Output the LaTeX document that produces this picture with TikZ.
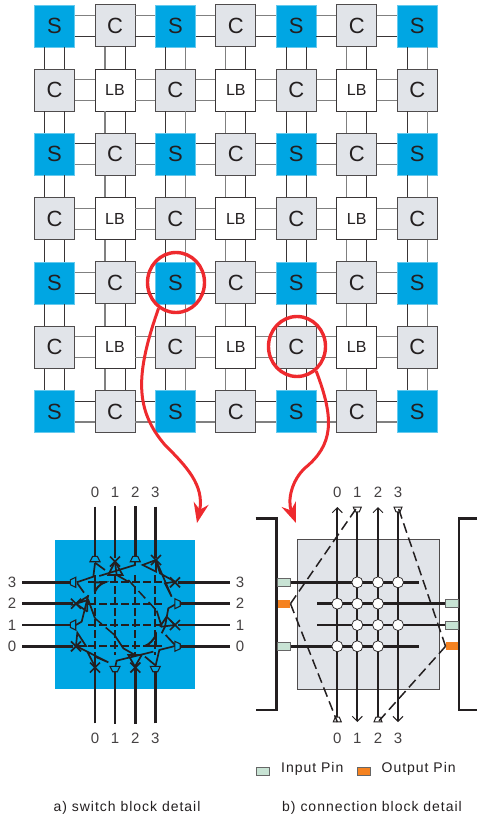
\documentclass[tikz,border=0pt]{standalone}
\usepackage{fontspec}
\setmainfont{Liberation Sans}
\newfontfamily\spacedfont[LetterSpace=7]{Liberation Sans}
\usetikzlibrary{arrows.meta,shapes.geometric}
\definecolor{inkdark}{HTML}{231F20}
\definecolor{sblue}{HTML}{00A6E3}
\definecolor{cgrey}{HTML}{E1E4E9}
\definecolor{ringred}{HTML}{EE2A2E}
\definecolor{pingreen}{HTML}{C8E3D4}
\definecolor{pinorange}{HTML}{F58220}
\begin{document}
\begin{tikzpicture}[
    x=1pt,y=-1pt,
    every node/.style={text=inkdark},
    block/.style={minimum width=40pt,minimum height=42pt,inner sep=0pt,line width=.9pt},
    blk0/.style={block,fill=sblue,draw=sblue!60!white,line width=.3pt,font=\fontsize{22}{24}\selectfont},
    blk1/.style={block,fill=cgrey,draw=inkdark!80,font=\fontsize{22}{24}\selectfont},
    blk2/.style={blk1},
    blk3/.style={block,fill=white,draw=inkdark!90,font=\fontsize{16}{18}\selectfont},
    conn0/.style={draw=inkdark!90,line width=.8pt},
    conn1/.style={draw=black!50,line width=1.2pt},
    ring/.style={ellipse,draw=ringred,line width=3.4pt,minimum width=57pt,minimum height=60pt,inner sep=0pt},
    callout/.style={draw=ringred,line width=3pt,-{Stealth[length=20pt,width=15pt]}},
    wire/.style={draw=inkdark,line width=2.5pt},
    cnwire/.style={draw=inkdark,line width=2.2pt,-{Straight Barb[length=5pt,width=10pt,line width=1pt]}},
    gate/.style={draw=inkdark,line width=1.7pt,line join=miter},
    swdash/.style={gate,dash pattern=on 8pt off 3pt},
    route/.style={gate,line width=1.5pt,dash pattern=on 10pt off 5pt},
    number/.style={font=\fontsize{15}{17}\selectfont,text=inkdark!85,inner sep=0pt},
    pinbox/.style={minimum width=12.5pt,minimum height=8pt,inner sep=0pt},
    inpin/.style={pinbox,fill=pingreen,draw=black!60,line width=.7pt},
    outpin/.style={pinbox,fill=pinorange},
    caption/.style={font=\fontsize{14}{16}\spacedfont,inner sep=0pt},
    junction/.style={circle,fill=white,draw=inkdark,line width=.7pt,minimum size=11pt,inner sep=0pt},
    trap/.pic={\draw[gate,fill=sblue,line width=1.1pt] (-5,2.7) -- (5,2.7) -- (2.4,-2.7) -- (-2.4,-2.7) -- cycle;},
    smalltrap/.pic={\draw[gate,fill=white,line width=1pt] (-4,2.4) -- (4,2.4) -- (2,-2.4) -- (-2,-2.4) -- cycle;},
    cross/.pic={\draw[gate] (-5,-5) -- (5,5) (-5,5) -- (5,-5);}
  ]
  \useasboundingbox (0,0) rectangle (477,819);

  % block array
  \foreach \rw in {0,...,6} {
    \foreach \cl in {0,...,6} {
      \pgfmathtruncatemacro{\kind}{mod(\rw,2)*2+mod(\cl,2)}
      \node[blk\kind] (n\rw\cl) at ({54.5+60.45*\cl},{25.7+64.3*\rw})
        {\ifcase\kind S\or C\or C\or LB\fi};
    }
  }
  \foreach \rw in {0,...,6} {
    \foreach \cl [evaluate=\cl as \nx using int(\cl+1)] in {0,...,5} {
      \pgfmathtruncatemacro{\tk}{mod(\rw,4)!=2}
      \pgfmathtruncatemacro{\bk}{mod(\rw,4)!=0}
      \draw[conn\tk] ([yshift=10.5pt]n\rw\cl.east) -- ([yshift=10.5pt]n\rw\nx.west);
      \draw[conn\bk] ([yshift=-10.5pt]n\rw\cl.east) -- ([yshift=-10.5pt]n\rw\nx.west);
    }
  }
  \foreach \cl in {0,...,6} {
    \foreach \rw [evaluate=\rw as \nx using int(\rw+1)] in {0,...,5} {
      \pgfmathtruncatemacro{\lk}{mod(\cl,2)==1}
      \pgfmathtruncatemacro{\rk}{mod(\cl,4)==2}
      \draw[conn\lk] ([xshift=-10pt]n\rw\cl.south) -- ([xshift=-10pt]n\nx\cl.north);
      \draw[conn\rk] ([xshift=10pt]n\rw\cl.south) -- ([xshift=10pt]n\nx\cl.north);
    }
  }

  % switch block
  \node[fill=sblue,minimum width=140pt,minimum height=149pt,inner sep=0pt] (swblock) at (125,614.5) {};
  \foreach \i/\xx/\yy in {0/95/646.3,1/115/625,2/135.3/603.7,3/155.3/582.3} {
    \node[number] (swtop\i) at (\xx,492) {\i};
    \node[number] (swbot\i) at (\xx,738) {\i};
    \node[number] (swleft\i) at (12,\yy) {\i};
    \node[number] (swright\i) at (240,\yy) {\i};
    \draw[wire] ([yshift=-9pt]swtop\i.south) -- (\xx,558);
    \draw[wire] ([yshift=9pt]swbot\i.north) -- (\xx,668);
    \draw[wire] ([xshift=6pt]swleft\i.east) -- (73,\yy);
    \draw[wire] ([xshift=-6pt]swright\i.west) -- (178,\yy);
    \draw[swdash] (\xx,575) -- (\xx,655);
    \draw[swdash] (88,\yy) -- (163,\yy);
  }
  \begin{scope}[shift={(0,480)},scale=0.3333]
    \draw[gate] (285,250) -- (280,290) -- (230,307) (232,310) -- (252,338) (285,248) -- (315,270);
    \draw[gate] (345,245) -- (325,285) -- (368,285) -- cycle;
    \draw[gate] (298,288) -- (405,255) -- (405,245);
    \draw[gate] (345,245) -- (350,285) -- (385,305);
    \draw[route] (385,300) -- (470,392);
    \draw[gate] (470,392) -- (485,440) -- (525,435) -- (500,410) -- (480,440);
    \draw[gate] (468,240) -- (428,255) -- (468,275) -- cycle;
    \draw[gate] (468,240) -- (480,280) -- (525,305) -- (495,310) -- (515,350) -- cycle;
    \draw[gate] (530,371) -- (505,385) -- (495,440) -- (485,460);
    \draw[gate] (525,495) -- (497,465) (525,498) -- (478,510) -- (465,565) (435,530) -- (465,555);
    \draw[gate] (345,565) -- (350,542) -- (460,515);
    \draw[gate] (405,560) -- (385,525) -- (425,525) -- cycle;
    \draw[gate] (405,525) -- (370,505) -- (340,460);
    \draw[route] (340,462) -- (285,415);
    \draw[gate] (285,415) -- (265,360) -- (228,371) -- (262,350) -- (262,395);
    \draw[gate] (228,371) -- (262,395);
    \draw[gate] (265,345) -- (245,425) -- (228,435);
    \draw[gate] (228,498) -- (232,458) -- (258,498) -- cycle;
    \draw[gate] (228,498) -- (262,515) -- (285,560) -- (285,530) -- (325,547) -- cycle;
    \draw[gate,line width=2pt] (285,335) -- (285,307) -- (315,307) .. controls (295,315) and (290,325) .. (285,335);
    \draw[gate,line width=2pt] (435,498) -- (468,498) -- (468,465) .. controls (460,480) and (450,492) .. (435,498);
  \end{scope}
  \foreach \xx/\yy/\ang in {95/559/0,135.3/559/0,115/669/180,155.3/669/180,73/582.3/90,73/625/90,177.5/603.7/-90,177.5/646.3/-90} {
    \pic[rotate=\ang] at (\xx,\yy) {trap};
  }
  \foreach \xx/\yy in {115/561.5,156/560,76/603.7,76/646.3,175/582.3,175/625,95/667.5,135.3/667.5} {
    \pic at (\xx,\yy) {cross};
  }

  % connection block
  \node[fill=cgrey,draw=inkdark!80,line width=.7pt,minimum width=142pt,minimum height=150pt,inner sep=0pt] (cnblock) at (368,614) {};
  \draw[wire] (255.7,518.5) -- (276.7,518.5) -- (276.7,710) -- (255.7,710);
  \draw[wire] (477,518.5) -- (459,518.5) -- (459,710) -- (477,710);
  \node[inpin] (pinLa) at (284,582.3) {};
  \node[outpin] (pinLb) at (284,603.7) {};
  \node[inpin] (pinLc) at (284,646.3) {};
  \node[inpin] (pinRa) at (452,603.7) {};
  \node[inpin] (pinRb) at (452,625) {};
  \node[outpin] (pinRc) at (452,646.3) {};
  \foreach \i/\xx in {0/337.3,1/357.3,2/378,3/398} {
    \node[number] (cntop\i) at (\xx,492) {\i};
    \node[number] (cnbot\i) at (\xx,738) {\i};
    \coordinate (cnup\i) at (\xx,507);
    \coordinate (cndown\i) at (\xx,722);
  }
  \foreach \i in {0,2} {
    \draw[cnwire] (cndown\i) -- (cnup\i);
  }
  \foreach \i in {1,3} {
    \draw[cnwire] (cnup\i) -- (cndown\i);
  }
  \draw[wire] (pinLa.east) -- (419,582.3);
  \draw[wire] (317,603.7) -- (pinRa.west);
  \draw[wire] (317,625) -- (pinRb.west);
  \draw[wire] (pinLc.east) -- (419,646.3);
  \foreach \xx/\yy in {357.3/582.3,378/582.3,398/582.3,337.3/603.7,357.3/603.7,378/603.7,357.3/625,378/625,398/625,337.3/646.3,357.3/646.3,378/646.3} {
    \node[junction] at (\xx,\yy) {};
  }
  \foreach \xx/\yy/\ang in {357.3/509.5/180,398/509.5/180,337.3/719.5/0,378/719.5/0} {
    \pic[rotate=\ang] at (\xx,\yy) {smalltrap};
  }
  \draw[route] (pinLb.east) -- (cnup1);
  \draw[route] (pinLb.east) -- (cndown0);
  \draw[route] (pinRc.west) -- (cnup3);
  \draw[route] (pinRc.west) -- (cndown2);

  % call-outs
  \node[ring] (ringS) at (176,282.5) {};
  \node[ring] (ringC) at (297,346.5) {};
  \coordinate (swhead) at (197,523);
  \coordinate (cnhead) at (296,523);
  \draw[callout] (ringS.236) .. controls (135,375) and (135,410) .. (165,445) .. controls (185,465) and (205,485) .. (swhead);
  \draw[callout] (ringC.308) .. controls (335,420) and (333,445) .. (305,468) .. controls (292,480) and (287,500) .. (cnhead);

  % legend
  \node[inpin] (keyin) at (263,771) {};
  \node[caption,anchor=west] (keyintext) at (281,769) {Input Pin};
  \node[outpin,draw=black!60,line width=.7pt] (keyout) at (364,771) {};
  \node[caption,anchor=west] (keyouttext) at (381.5,769) {Output Pin};
  \node[caption] (capa) at (127,808) {a) switch block detail};
  \node[caption] (capb) at (372,808) {b) connection block detail};
\end{tikzpicture}
\end{document}
